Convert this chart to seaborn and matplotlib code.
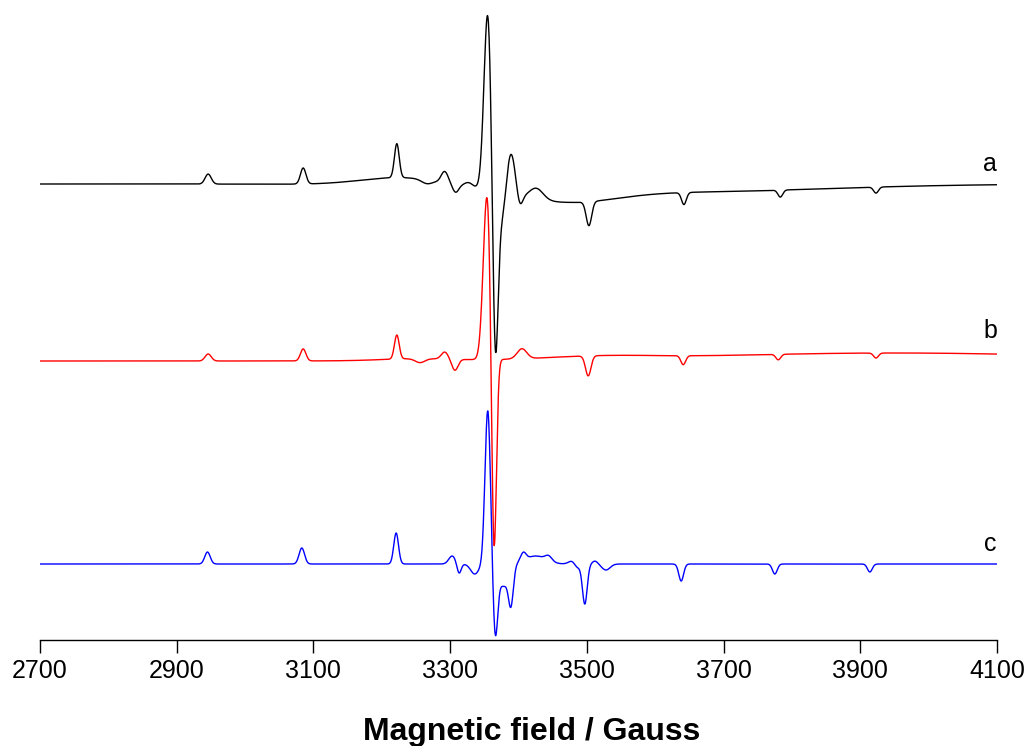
import numpy as np
import pandas as pd
import matplotlib
matplotlib.use('Agg')
import matplotlib.pyplot as plt
import seaborn as sns

# Lines: centre (Gauss), height, width (Gauss)
# heights are in plot units above each trace's baseline
a_centres = [2946, 3085, 3222, 3230, 3266, 3292, 3308, 3327, 3355, 3366, 3376, 3389, 3402, 3426, 3470, 3503, 3620, 3642, 3783, 3923]
a_heights = [10, 16, 34, 8, -4, 11, -8, 4, 178, -178, -25, 41, -11, 11, -12, -24, -8, -12, -7, -6]
a_widths = [4.5, 4, 3.5, 60, 8, 5, 4.5, 6, 5.5, 4, 5, 6, 4, 10, 70, 4, 220, 3.5, 3.5, 3.5]

b_centres = [2946, 3085, 3222, 3250, 3256, 3292, 3307, 3354, 3364, 3405, 3502, 3520, 3641, 3780, 3923, 3950]
b_heights = [7, 12, 24, 2, -4, 7, -11, 165, -215, 10, -20, 3, -9, -5.5, -5, 8]
b_widths = [4.5, 4, 3.5, 50, 7, 5, 4.5, 5.5, 3.5, 7, 4, 80, 3.5, 3.5, 3.5, 280]

c_centres = [2945, 3083, 3221, 3303, 3313, 3336, 3355, 3366, 3378, 3389, 3407, 3425, 3444, 3478, 3486, 3497, 3512, 3528, 3638, 3775, 3914]
c_heights = [12, 16, 31, 8, -10, -10, 154, -67, -22, -35, 8, 8, 5, 3, -4, -40, 3, -6, -17, -10, -8]
c_widths = [4, 4, 3.5, 5, 3, 6, 4, 3.5, 8, 3.5, 4, 15, 5, 5, 4, 3.5, 4, 6, 3.5, 3.5, 3.5]

trace_names = ['a', 'b', 'c']
baselines = [456, 279, 76]
colours = ['#000000', '#ff0000', '#0000ff']
tick_values = [2700, 2900, 3100, 3300, 3500, 3700, 3900, 4100]

field = np.linspace(2700, 4100, 2801)


def spectrum(centres, heights, widths, base):
    y = np.full(field.shape, float(base))
    for c, h, w in zip(centres, heights, widths):
        y += h * np.exp(-0.5 * ((field - c) / w) ** 2)
    return y


df = pd.DataFrame({
    'field': field,
    'a': spectrum(a_centres, a_heights, a_widths, baselines[0]),
    'b': spectrum(b_centres, b_heights, b_widths, baselines[1]),
    'c': spectrum(c_centres, c_heights, c_widths, baselines[2]),
})

sns.set_style('white')
plt.rcParams['font.family'] = ['Liberation Sans', 'DejaVu Sans']
plt.rcParams['text.color'] = 'black'
plt.rcParams['xtick.color'] = 'black'
plt.rcParams['axes.labelcolor'] = 'black'

fig = plt.figure(figsize=(10.28, 7.46), dpi=100)
ax = fig.add_axes([40 / 1028, 106 / 746, 957 / 1028, 640 / 746])

for name, col in zip(trace_names, colours):
    sns.lineplot(data=df, x='field', y=name, color=col, lw=1.0, ax=ax,
                 estimator=None, sort=False)

# trace letters on the right
label_lift = [20, 30, 20]
for name, base, lift in zip(trace_names, baselines, label_lift):
    ax.text(4090, base + lift, name, fontsize=18, ha='center', va='center',
            color='black')

ax.set_xlim(2700, 4100)
ax.set_ylim(0, 640)
ax.set_xticks(tick_values)
ax.set_xticklabels([str(t) for t in tick_values], fontsize=18, color='black')
ax.set_yticks([])
ax.set_ylabel('')
ax.tick_params(axis='x', direction='out', length=9, width=1, pad=5,
               bottom=True, colors='black')
for s in ['top', 'right', 'left']:
    ax.spines[s].set_visible(False)
ax.spines['bottom'].set_linewidth(1)
ax.spines['bottom'].set_color('black')

ax.set_xlabel('Magnetic field / Gauss', fontsize=23, fontweight='bold',
              color='black')
ax.xaxis.label.set_va('baseline')
ax.xaxis.set_label_coords((532 - 40) / 957, -(740 - 640) / 640)

fig.savefig('out.png', dpi=100)
